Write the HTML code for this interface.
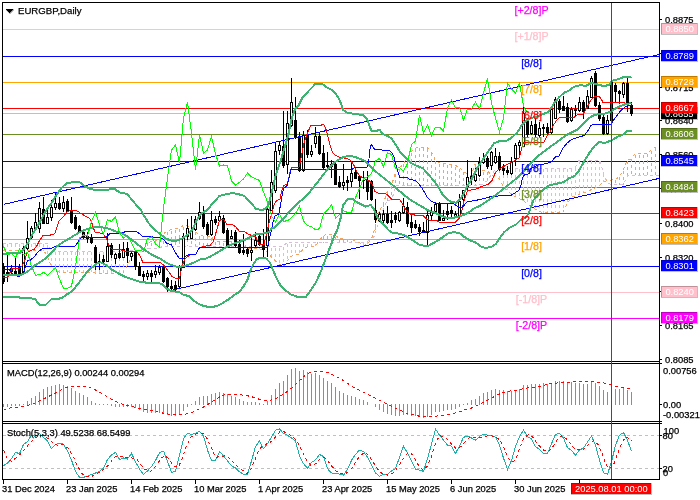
<!DOCTYPE html>
<html><head><meta charset="utf-8"><title>EURGBP Daily</title>
<style>html,body{margin:0;padding:0;background:#fff}body{width:700px;height:500px;overflow:hidden}</style></head>
<body>
<svg width="700" height="500" viewBox="0 0 700 500" style="display:block;font-family:'Liberation Sans',Arial,sans-serif">
<rect width="700" height="500" fill="#fff"/>
<g shape-rendering="crispEdges" fill="none">
<clipPath id="cm"><rect x="3" y="3" width="656" height="358"/></clipPath>
<g clip-path="url(#cm)">
<rect x="3" y="29" width="656" height="1" fill="#FFC0CB"/>
<rect x="3" y="56" width="656" height="1" fill="#0000FF"/>
<rect x="3" y="82" width="656" height="1" fill="#FFA500"/>
<rect x="3" y="108" width="656" height="1" fill="#FF0000"/>
<rect x="3" y="134" width="656" height="1" fill="#6B8E23"/>
<rect x="3" y="161" width="656" height="1" fill="#0000FF"/>
<rect x="3" y="187" width="656" height="1" fill="#6B8E23"/>
<rect x="3" y="213" width="656" height="1" fill="#FF0000"/>
<rect x="3" y="239" width="656" height="1" fill="#FFA500"/>
<rect x="3" y="266" width="656" height="1" fill="#0000FF"/>
<rect x="3" y="292" width="656" height="1" fill="#FFC0CB"/>
<rect x="3" y="318" width="656" height="1" fill="#FF00FF"/>
<rect x="3" y="113" width="656" height="1" fill="#C0C0C0"/>
<line x1="3.5" y1="244.0" x2="3.5" y2="250.3" stroke="#D8BFD8" stroke-dasharray="3 3"/>
<line x1="7.5" y1="244.0" x2="7.5" y2="250.3" stroke="#D8BFD8" stroke-dasharray="3 3"/>
<line x1="11.5" y1="244.0" x2="11.5" y2="250.3" stroke="#D8BFD8" stroke-dasharray="3 3"/>
<line x1="15.5" y1="244.0" x2="15.5" y2="250.3" stroke="#D8BFD8" stroke-dasharray="3 3"/>
<line x1="19.5" y1="244.0" x2="19.5" y2="250.3" stroke="#D8BFD8" stroke-dasharray="3 3"/>
<line x1="23.5" y1="244.0" x2="23.5" y2="250.3" stroke="#D8BFD8" stroke-dasharray="3 3"/>
<line x1="27.5" y1="244.0" x2="27.5" y2="250.3" stroke="#D8BFD8" stroke-dasharray="3 3"/>
<line x1="31.5" y1="244.0" x2="31.5" y2="250.3" stroke="#D8BFD8" stroke-dasharray="3 3"/>
<line x1="35.5" y1="244.0" x2="35.5" y2="250.3" stroke="#D8BFD8" stroke-dasharray="3 3"/>
<line x1="39.5" y1="244.0" x2="39.5" y2="250.3" stroke="#D8BFD8" stroke-dasharray="3 3"/>
<line x1="43.5" y1="244.0" x2="43.5" y2="250.9" stroke="#D8BFD8" stroke-dasharray="3 3"/>
<line x1="47.5" y1="245.1" x2="47.5" y2="256.3" stroke="#D8BFD8" stroke-dasharray="3 3"/>
<line x1="51.5" y1="252.4" x2="51.5" y2="266.2" stroke="#D8BFD8" stroke-dasharray="3 3"/>
<line x1="55.5" y1="252.4" x2="55.5" y2="270.2" stroke="#D8BFD8" stroke-dasharray="3 3"/>
<line x1="59.5" y1="252.4" x2="59.5" y2="272.0" stroke="#D8BFD8" stroke-dasharray="3 3"/>
<line x1="63.5" y1="252.4" x2="63.5" y2="272.0" stroke="#D8BFD8" stroke-dasharray="3 3"/>
<line x1="67.5" y1="252.4" x2="67.5" y2="272.0" stroke="#D8BFD8" stroke-dasharray="3 3"/>
<line x1="71.5" y1="252.4" x2="71.5" y2="272.0" stroke="#D8BFD8" stroke-dasharray="3 3"/>
<line x1="75.5" y1="252.4" x2="75.5" y2="272.0" stroke="#D8BFD8" stroke-dasharray="3 3"/>
<line x1="79.5" y1="252.4" x2="79.5" y2="272.0" stroke="#D8BFD8" stroke-dasharray="3 3"/>
<line x1="83.5" y1="252.4" x2="83.5" y2="272.0" stroke="#D8BFD8" stroke-dasharray="3 3"/>
<line x1="87.5" y1="252.4" x2="87.5" y2="272.0" stroke="#D8BFD8" stroke-dasharray="3 3"/>
<line x1="91.5" y1="252.4" x2="91.5" y2="272.1" stroke="#D8BFD8" stroke-dasharray="3 3"/>
<line x1="95.5" y1="252.4" x2="95.5" y2="273.1" stroke="#D8BFD8" stroke-dasharray="3 3"/>
<line x1="99.5" y1="252.4" x2="99.5" y2="273.1" stroke="#D8BFD8" stroke-dasharray="3 3"/>
<line x1="103.5" y1="252.4" x2="103.5" y2="273.1" stroke="#D8BFD8" stroke-dasharray="3 3"/>
<line x1="107.5" y1="252.4" x2="107.5" y2="273.1" stroke="#D8BFD8" stroke-dasharray="3 3"/>
<line x1="111.5" y1="252.4" x2="111.5" y2="273.1" stroke="#D8BFD8" stroke-dasharray="3 3"/>
<line x1="115.5" y1="252.4" x2="115.5" y2="273.1" stroke="#D8BFD8" stroke-dasharray="3 3"/>
<line x1="119.5" y1="252.4" x2="119.5" y2="273.1" stroke="#D8BFD8" stroke-dasharray="3 3"/>
<line x1="123.5" y1="252.4" x2="123.5" y2="272.2" stroke="#D8BFD8" stroke-dasharray="3 3"/>
<line x1="127.5" y1="252.3" x2="127.5" y2="265.0" stroke="#D8BFD8" stroke-dasharray="3 3"/>
<line x1="131.5" y1="251.9" x2="131.5" y2="257.5" stroke="#D8BFD8" stroke-dasharray="3 3"/>
<line x1="135.5" y1="251.4" x2="135.5" y2="253.6" stroke="#D8BFD8" stroke-dasharray="3 3"/>
<line x1="143.5" y1="248.3" x2="143.5" y2="249.5" stroke="#F4A460" stroke-dasharray="3 3"/>
<line x1="147.5" y1="243.2" x2="147.5" y2="249.0" stroke="#F4A460" stroke-dasharray="3 3"/>
<line x1="151.5" y1="242.8" x2="151.5" y2="248.6" stroke="#F4A460" stroke-dasharray="3 3"/>
<line x1="155.5" y1="242.1" x2="155.5" y2="248.4" stroke="#F4A460" stroke-dasharray="3 3"/>
<line x1="159.5" y1="238.5" x2="159.5" y2="248.1" stroke="#F4A460" stroke-dasharray="3 3"/>
<line x1="163.5" y1="234.8" x2="163.5" y2="246.3" stroke="#F4A460" stroke-dasharray="3 3"/>
<line x1="167.5" y1="232.1" x2="167.5" y2="246.3" stroke="#F4A460" stroke-dasharray="3 3"/>
<line x1="171.5" y1="230.5" x2="171.5" y2="246.3" stroke="#F4A460" stroke-dasharray="3 3"/>
<line x1="175.5" y1="229.9" x2="175.5" y2="246.3" stroke="#F4A460" stroke-dasharray="3 3"/>
<line x1="179.5" y1="229.1" x2="179.5" y2="246.3" stroke="#F4A460" stroke-dasharray="3 3"/>
<line x1="183.5" y1="226.7" x2="183.5" y2="246.3" stroke="#F4A460" stroke-dasharray="3 3"/>
<line x1="187.5" y1="227.2" x2="187.5" y2="246.3" stroke="#F4A460" stroke-dasharray="3 3"/>
<line x1="191.5" y1="228.9" x2="191.5" y2="246.3" stroke="#F4A460" stroke-dasharray="3 3"/>
<line x1="195.5" y1="232.1" x2="195.5" y2="246.4" stroke="#F4A460" stroke-dasharray="3 3"/>
<line x1="199.5" y1="236.1" x2="199.5" y2="246.4" stroke="#F4A460" stroke-dasharray="3 3"/>
<line x1="203.5" y1="237.0" x2="203.5" y2="246.4" stroke="#F4A460" stroke-dasharray="3 3"/>
<line x1="207.5" y1="237.3" x2="207.5" y2="246.4" stroke="#F4A460" stroke-dasharray="3 3"/>
<line x1="211.5" y1="238.1" x2="211.5" y2="246.4" stroke="#F4A460" stroke-dasharray="3 3"/>
<line x1="215.5" y1="241.8" x2="215.5" y2="246.4" stroke="#F4A460" stroke-dasharray="3 3"/>
<line x1="219.5" y1="242.2" x2="219.5" y2="246.4" stroke="#F4A460" stroke-dasharray="3 3"/>
<line x1="223.5" y1="242.5" x2="223.5" y2="246.4" stroke="#F4A460" stroke-dasharray="3 3"/>
<line x1="227.5" y1="242.4" x2="227.5" y2="246.4" stroke="#F4A460" stroke-dasharray="3 3"/>
<line x1="231.5" y1="242.4" x2="231.5" y2="246.4" stroke="#F4A460" stroke-dasharray="3 3"/>
<line x1="235.5" y1="242.3" x2="235.5" y2="246.4" stroke="#F4A460" stroke-dasharray="3 3"/>
<line x1="239.5" y1="242.3" x2="239.5" y2="246.4" stroke="#F4A460" stroke-dasharray="3 3"/>
<line x1="243.5" y1="243.1" x2="243.5" y2="246.4" stroke="#F4A460" stroke-dasharray="3 3"/>
<line x1="247.5" y1="247.4" x2="247.5" y2="248.5" stroke="#D8BFD8" stroke-dasharray="3 3"/>
<line x1="251.5" y1="247.4" x2="251.5" y2="248.7" stroke="#D8BFD8" stroke-dasharray="3 3"/>
<line x1="255.5" y1="247.5" x2="255.5" y2="248.9" stroke="#D8BFD8" stroke-dasharray="3 3"/>
<line x1="259.5" y1="247.5" x2="259.5" y2="249.1" stroke="#D8BFD8" stroke-dasharray="3 3"/>
<line x1="263.5" y1="247.5" x2="263.5" y2="249.6" stroke="#D8BFD8" stroke-dasharray="3 3"/>
<line x1="267.5" y1="247.5" x2="267.5" y2="252.6" stroke="#D8BFD8" stroke-dasharray="3 3"/>
<line x1="271.5" y1="247.5" x2="271.5" y2="257.0" stroke="#D8BFD8" stroke-dasharray="3 3"/>
<line x1="275.5" y1="247.5" x2="275.5" y2="260.9" stroke="#D8BFD8" stroke-dasharray="3 3"/>
<line x1="279.5" y1="247.5" x2="279.5" y2="264.4" stroke="#D8BFD8" stroke-dasharray="3 3"/>
<line x1="283.5" y1="247.0" x2="283.5" y2="266.2" stroke="#D8BFD8" stroke-dasharray="3 3"/>
<line x1="287.5" y1="243.6" x2="287.5" y2="260.4" stroke="#D8BFD8" stroke-dasharray="3 3"/>
<line x1="291.5" y1="243.6" x2="291.5" y2="256.3" stroke="#D8BFD8" stroke-dasharray="3 3"/>
<line x1="295.5" y1="243.6" x2="295.5" y2="254.6" stroke="#D8BFD8" stroke-dasharray="3 3"/>
<line x1="299.5" y1="243.6" x2="299.5" y2="253.7" stroke="#D8BFD8" stroke-dasharray="3 3"/>
<line x1="303.5" y1="243.6" x2="303.5" y2="248.8" stroke="#D8BFD8" stroke-dasharray="3 3"/>
<line x1="307.5" y1="243.5" x2="307.5" y2="247.0" stroke="#D8BFD8" stroke-dasharray="3 3"/>
<line x1="311.5" y1="243.5" x2="311.5" y2="246.6" stroke="#D8BFD8" stroke-dasharray="3 3"/>
<line x1="315.5" y1="243.5" x2="315.5" y2="245.7" stroke="#D8BFD8" stroke-dasharray="3 3"/>
<line x1="323.5" y1="236.4" x2="323.5" y2="242.5" stroke="#F4A460" stroke-dasharray="3 3"/>
<line x1="327.5" y1="235.5" x2="327.5" y2="242.5" stroke="#F4A460" stroke-dasharray="3 3"/>
<line x1="331.5" y1="236.0" x2="331.5" y2="242.5" stroke="#F4A460" stroke-dasharray="3 3"/>
<line x1="335.5" y1="236.7" x2="335.5" y2="242.5" stroke="#F4A460" stroke-dasharray="3 3"/>
<line x1="339.5" y1="239.1" x2="339.5" y2="242.5" stroke="#F4A460" stroke-dasharray="3 3"/>
<line x1="343.5" y1="240.0" x2="343.5" y2="242.5" stroke="#F4A460" stroke-dasharray="3 3"/>
<line x1="347.5" y1="240.2" x2="347.5" y2="242.4" stroke="#F4A460" stroke-dasharray="3 3"/>
<line x1="351.5" y1="240.6" x2="351.5" y2="242.4" stroke="#F4A460" stroke-dasharray="3 3"/>
<line x1="363.5" y1="243.2" x2="363.5" y2="245.1" stroke="#D8BFD8" stroke-dasharray="3 3"/>
<line x1="367.5" y1="242.1" x2="367.5" y2="244.1" stroke="#D8BFD8" stroke-dasharray="3 3"/>
<line x1="375.5" y1="226.9" x2="375.5" y2="233.3" stroke="#F4A460" stroke-dasharray="3 3"/>
<line x1="379.5" y1="211.2" x2="379.5" y2="218.2" stroke="#F4A460" stroke-dasharray="3 3"/>
<line x1="383.5" y1="204.4" x2="383.5" y2="209.0" stroke="#F4A460" stroke-dasharray="3 3"/>
<line x1="387.5" y1="192.4" x2="387.5" y2="200.8" stroke="#F4A460" stroke-dasharray="3 3"/>
<line x1="391.5" y1="186.4" x2="391.5" y2="199.5" stroke="#F4A460" stroke-dasharray="3 3"/>
<line x1="395.5" y1="174.4" x2="395.5" y2="188.4" stroke="#F4A460" stroke-dasharray="3 3"/>
<line x1="399.5" y1="169.4" x2="399.5" y2="185.5" stroke="#F4A460" stroke-dasharray="3 3"/>
<line x1="403.5" y1="164.3" x2="403.5" y2="185.5" stroke="#F4A460" stroke-dasharray="3 3"/>
<line x1="407.5" y1="158.8" x2="407.5" y2="185.5" stroke="#F4A460" stroke-dasharray="3 3"/>
<line x1="411.5" y1="152.5" x2="411.5" y2="185.5" stroke="#F4A460" stroke-dasharray="3 3"/>
<line x1="415.5" y1="149.2" x2="415.5" y2="185.5" stroke="#F4A460" stroke-dasharray="3 3"/>
<line x1="419.5" y1="148.4" x2="419.5" y2="185.5" stroke="#F4A460" stroke-dasharray="3 3"/>
<line x1="423.5" y1="148.4" x2="423.5" y2="185.5" stroke="#F4A460" stroke-dasharray="3 3"/>
<line x1="427.5" y1="148.8" x2="427.5" y2="185.5" stroke="#F4A460" stroke-dasharray="3 3"/>
<line x1="431.5" y1="153.1" x2="431.5" y2="185.5" stroke="#F4A460" stroke-dasharray="3 3"/>
<line x1="435.5" y1="160.9" x2="435.5" y2="185.5" stroke="#F4A460" stroke-dasharray="3 3"/>
<line x1="439.5" y1="163.7" x2="439.5" y2="185.5" stroke="#F4A460" stroke-dasharray="3 3"/>
<line x1="443.5" y1="164.4" x2="443.5" y2="185.5" stroke="#F4A460" stroke-dasharray="3 3"/>
<line x1="447.5" y1="164.8" x2="447.5" y2="185.5" stroke="#F4A460" stroke-dasharray="3 3"/>
<line x1="451.5" y1="165.4" x2="451.5" y2="185.5" stroke="#F4A460" stroke-dasharray="3 3"/>
<line x1="455.5" y1="166.6" x2="455.5" y2="185.5" stroke="#F4A460" stroke-dasharray="3 3"/>
<line x1="459.5" y1="168.5" x2="459.5" y2="185.5" stroke="#F4A460" stroke-dasharray="3 3"/>
<line x1="463.5" y1="172.0" x2="463.5" y2="185.5" stroke="#F4A460" stroke-dasharray="3 3"/>
<line x1="467.5" y1="175.2" x2="467.5" y2="185.5" stroke="#F4A460" stroke-dasharray="3 3"/>
<line x1="471.5" y1="175.1" x2="471.5" y2="185.5" stroke="#F4A460" stroke-dasharray="3 3"/>
<line x1="475.5" y1="165.8" x2="475.5" y2="185.5" stroke="#F4A460" stroke-dasharray="3 3"/>
<line x1="479.5" y1="171.5" x2="479.5" y2="185.3" stroke="#F4A460" stroke-dasharray="3 3"/>
<line x1="483.5" y1="171.8" x2="483.5" y2="183.6" stroke="#F4A460" stroke-dasharray="3 3"/>
<line x1="487.5" y1="172.4" x2="487.5" y2="180.2" stroke="#F4A460" stroke-dasharray="3 3"/>
<line x1="495.5" y1="170.9" x2="495.5" y2="176.8" stroke="#D8BFD8" stroke-dasharray="3 3"/>
<line x1="499.5" y1="169.9" x2="499.5" y2="179.9" stroke="#D8BFD8" stroke-dasharray="3 3"/>
<line x1="503.5" y1="169.3" x2="503.5" y2="186.6" stroke="#D8BFD8" stroke-dasharray="3 3"/>
<line x1="507.5" y1="169.3" x2="507.5" y2="190.9" stroke="#D8BFD8" stroke-dasharray="3 3"/>
<line x1="511.5" y1="169.3" x2="511.5" y2="194.3" stroke="#D8BFD8" stroke-dasharray="3 3"/>
<line x1="515.5" y1="169.2" x2="515.5" y2="196.7" stroke="#D8BFD8" stroke-dasharray="3 3"/>
<line x1="519.5" y1="169.2" x2="519.5" y2="198.6" stroke="#D8BFD8" stroke-dasharray="3 3"/>
<line x1="523.5" y1="169.2" x2="523.5" y2="200.9" stroke="#D8BFD8" stroke-dasharray="3 3"/>
<line x1="527.5" y1="169.2" x2="527.5" y2="203.9" stroke="#D8BFD8" stroke-dasharray="3 3"/>
<line x1="531.5" y1="169.2" x2="531.5" y2="206.8" stroke="#D8BFD8" stroke-dasharray="3 3"/>
<line x1="535.5" y1="169.2" x2="535.5" y2="209.2" stroke="#D8BFD8" stroke-dasharray="3 3"/>
<line x1="539.5" y1="169.1" x2="539.5" y2="211.2" stroke="#D8BFD8" stroke-dasharray="3 3"/>
<line x1="543.5" y1="169.1" x2="543.5" y2="212.7" stroke="#D8BFD8" stroke-dasharray="3 3"/>
<line x1="547.5" y1="169.1" x2="547.5" y2="212.6" stroke="#D8BFD8" stroke-dasharray="3 3"/>
<line x1="551.5" y1="169.1" x2="551.5" y2="212.5" stroke="#D8BFD8" stroke-dasharray="3 3"/>
<line x1="555.5" y1="169.1" x2="555.5" y2="212.4" stroke="#D8BFD8" stroke-dasharray="3 3"/>
<line x1="559.5" y1="169.1" x2="559.5" y2="212.4" stroke="#D8BFD8" stroke-dasharray="3 3"/>
<line x1="563.5" y1="169.0" x2="563.5" y2="211.3" stroke="#D8BFD8" stroke-dasharray="3 3"/>
<line x1="567.5" y1="169.0" x2="567.5" y2="203.2" stroke="#D8BFD8" stroke-dasharray="3 3"/>
<line x1="571.5" y1="169.0" x2="571.5" y2="197.3" stroke="#D8BFD8" stroke-dasharray="3 3"/>
<line x1="575.5" y1="168.1" x2="575.5" y2="195.9" stroke="#D8BFD8" stroke-dasharray="3 3"/>
<line x1="579.5" y1="161.3" x2="579.5" y2="194.3" stroke="#D8BFD8" stroke-dasharray="3 3"/>
<line x1="583.5" y1="161.3" x2="583.5" y2="192.8" stroke="#D8BFD8" stroke-dasharray="3 3"/>
<line x1="587.5" y1="161.3" x2="587.5" y2="191.3" stroke="#D8BFD8" stroke-dasharray="3 3"/>
<line x1="591.5" y1="161.3" x2="591.5" y2="189.5" stroke="#D8BFD8" stroke-dasharray="3 3"/>
<line x1="595.5" y1="161.3" x2="595.5" y2="187.8" stroke="#D8BFD8" stroke-dasharray="3 3"/>
<line x1="599.5" y1="161.3" x2="599.5" y2="185.6" stroke="#D8BFD8" stroke-dasharray="3 3"/>
<line x1="603.5" y1="174.4" x2="603.5" y2="182.2" stroke="#D8BFD8" stroke-dasharray="3 3"/>
<line x1="611.5" y1="181.0" x2="611.5" y2="184.8" stroke="#F4A460" stroke-dasharray="3 3"/>
<line x1="615.5" y1="180.4" x2="615.5" y2="184.8" stroke="#F4A460" stroke-dasharray="3 3"/>
<line x1="619.5" y1="177.2" x2="619.5" y2="184.8" stroke="#F4A460" stroke-dasharray="3 3"/>
<line x1="623.5" y1="170.7" x2="623.5" y2="184.6" stroke="#F4A460" stroke-dasharray="3 3"/>
<line x1="627.5" y1="160.9" x2="627.5" y2="175.8" stroke="#F4A460" stroke-dasharray="3 3"/>
<line x1="631.5" y1="159.3" x2="631.5" y2="175.4" stroke="#F4A460" stroke-dasharray="3 3"/>
<line x1="635.5" y1="154.8" x2="635.5" y2="175.4" stroke="#F4A460" stroke-dasharray="3 3"/>
<line x1="639.5" y1="154.8" x2="639.5" y2="175.4" stroke="#F4A460" stroke-dasharray="3 3"/>
<line x1="643.5" y1="154.8" x2="643.5" y2="175.4" stroke="#F4A460" stroke-dasharray="3 3"/>
<line x1="647.5" y1="154.4" x2="647.5" y2="175.4" stroke="#F4A460" stroke-dasharray="3 3"/>
<line x1="651.5" y1="150.8" x2="651.5" y2="175.4" stroke="#F4A460" stroke-dasharray="3 3"/>
<line x1="655.5" y1="148.1" x2="655.5" y2="175.4" stroke="#F4A460" stroke-dasharray="3 3"/>
<polyline points="3.0,243.0 47.0,243.0 51.0,251.4 127.0,251.4 151.0,248.6 159.0,248.3 163.0,246.3 283.0,246.5 287.0,242.6 363.0,242.4 371.0,240.0 375.0,235.3 379.0,219.3 384.0,207.9 387.0,201.0 392.0,199.3 394.3,190.7 397.0,185.5 479.0,185.5 483.0,184.0 487.0,181.0 491.0,175.0 495.0,170.0 499.0,169.0 503.0,168.3 575.0,168.0 577.3,163.9 579.0,160.3 600.0,160.3 601.8,166.8 603.2,172.6 605.4,178.3 607.6,182.6 611.0,184.8 623.4,184.8 627.7,175.4 659.0,175.4" stroke="#D8BFD8" stroke-dasharray="3 3"/>
<polyline points="3.0,250.3 43.0,250.3 47.0,255.0 51.0,265.7 55.0,270.0 59.0,272.0 91.0,272.0 95.0,273.1 123.0,273.1 127.0,266.0 131.0,258.0 135.0,254.0 139.0,251.0 143.0,248.0 147.0,242.3 155.0,241.5 159.0,238.0 163.0,234.1 167.0,231.3 171.0,229.6 179.0,228.4 183.0,225.6 187.0,226.0 191.0,227.5 195.0,230.5 199.0,235.0 203.0,236.0 211.0,236.6 215.0,240.8 223.0,241.5 243.0,241.2 247.0,248.5 263.0,249.3 267.0,252.0 271.0,256.5 275.0,260.5 279.0,264.0 283.0,266.9 287.0,261.0 291.0,256.5 295.0,254.6 299.0,254.3 303.0,249.1 307.0,247.0 315.0,246.3 319.0,241.3 323.0,235.5 327.0,234.4 335.0,235.4 339.0,238.0 343.0,239.0 351.0,239.4 355.0,240.8 359.0,242.5 363.0,245.2 367.0,244.7 371.0,239.8 375.0,228.0 379.0,211.0 383.0,205.0 387.0,192.0 391.0,187.0 395.0,174.0 399.0,169.0 403.0,164.0 407.0,158.6 411.0,152.0 415.0,148.3 419.0,147.4 427.0,147.4 431.0,151.0 435.0,159.5 439.0,162.6 443.0,163.4 447.0,163.7 451.0,164.3 455.0,165.4 459.0,167.1 463.0,170.6 467.0,174.0 471.0,175.5 475.0,164.0 479.0,170.5 487.0,171.0 491.0,174.0 495.0,176.5 499.0,179.0 503.0,186.0 507.0,190.5 511.0,194.0 515.0,196.5 519.0,198.3 523.0,200.5 527.0,203.5 531.0,206.5 535.0,209.0 539.0,211.0 543.0,212.7 563.0,212.3 567.0,204.0 571.0,197.5 575.0,196.1 579.0,194.5 587.0,191.5 595.0,188.0 599.0,186.0 603.0,182.5 607.0,180.5 611.0,180.0 615.0,179.8 619.0,176.9 623.0,171.1 627.0,160.0 631.0,158.9 635.0,153.8 647.0,153.8 651.0,150.2 655.0,147.3 659.0,146.0" stroke="#F4A460" stroke-dasharray="3 3"/>
<rect x="3" y="263" width="1" height="21" fill="#000"/>
<rect x="2" y="266" width="3" height="16" fill="#000"/>
<rect x="7" y="255" width="1" height="27" fill="#000"/>
<rect x="6" y="272" width="3" height="2" fill="#000"/>
<rect x="11" y="265" width="1" height="9" fill="#000"/>
<rect x="10" y="268" width="3" height="4" fill="#000"/>
<rect x="15" y="258" width="1" height="17" fill="#000"/>
<rect x="14" y="271" width="3" height="3" fill="#000"/>
<rect x="19" y="264" width="1" height="11" fill="#000"/>
<rect x="18" y="267" width="3" height="8" fill="#000"/>
<rect x="23" y="246" width="1" height="28" fill="#000"/>
<rect x="22" y="248" width="3" height="25" fill="#000"/>
<rect x="23" y="249" width="1" height="23" fill="#fff"/>
<rect x="27" y="221" width="1" height="29" fill="#000"/>
<rect x="26" y="238" width="3" height="11" fill="#000"/>
<rect x="27" y="239" width="1" height="9" fill="#fff"/>
<rect x="31" y="226" width="1" height="13" fill="#000"/>
<rect x="30" y="228" width="3" height="10" fill="#000"/>
<rect x="31" y="229" width="1" height="8" fill="#fff"/>
<rect x="35" y="213" width="1" height="16" fill="#000"/>
<rect x="34" y="222" width="3" height="7" fill="#000"/>
<rect x="35" y="223" width="1" height="5" fill="#fff"/>
<rect x="39" y="202" width="1" height="31" fill="#000"/>
<rect x="38" y="208" width="3" height="21" fill="#000"/>
<rect x="39" y="209" width="1" height="19" fill="#fff"/>
<rect x="43" y="197" width="1" height="27" fill="#000"/>
<rect x="42" y="209" width="3" height="15" fill="#000"/>
<rect x="47" y="207" width="1" height="17" fill="#000"/>
<rect x="46" y="217" width="3" height="7" fill="#000"/>
<rect x="47" y="218" width="1" height="5" fill="#fff"/>
<rect x="51" y="200" width="1" height="21" fill="#000"/>
<rect x="50" y="207" width="3" height="11" fill="#000"/>
<rect x="51" y="208" width="1" height="9" fill="#fff"/>
<rect x="55" y="192" width="1" height="18" fill="#000"/>
<rect x="54" y="203" width="3" height="5" fill="#000"/>
<rect x="55" y="204" width="1" height="3" fill="#fff"/>
<rect x="59" y="197" width="1" height="13" fill="#000"/>
<rect x="58" y="203" width="3" height="6" fill="#000"/>
<rect x="63" y="196" width="1" height="16" fill="#000"/>
<rect x="62" y="202" width="3" height="7" fill="#000"/>
<rect x="63" y="203" width="1" height="5" fill="#fff"/>
<rect x="67" y="199" width="1" height="13" fill="#000"/>
<rect x="66" y="201" width="3" height="11" fill="#000"/>
<rect x="71" y="197" width="1" height="27" fill="#000"/>
<rect x="70" y="211" width="3" height="12" fill="#000"/>
<rect x="75" y="215" width="1" height="15" fill="#000"/>
<rect x="74" y="217" width="3" height="12" fill="#000"/>
<rect x="79" y="225" width="1" height="8" fill="#000"/>
<rect x="78" y="226" width="3" height="7" fill="#000"/>
<rect x="83" y="231" width="1" height="8" fill="#000"/>
<rect x="82" y="232" width="3" height="6" fill="#000"/>
<rect x="87" y="232" width="1" height="11" fill="#000"/>
<rect x="86" y="236" width="3" height="3" fill="#000"/>
<rect x="91" y="234" width="1" height="10" fill="#000"/>
<rect x="90" y="237" width="3" height="6" fill="#000"/>
<rect x="95" y="245" width="1" height="25" fill="#000"/>
<rect x="94" y="247" width="3" height="16" fill="#000"/>
<rect x="99" y="254" width="1" height="16" fill="#000"/>
<rect x="98" y="261" width="3" height="2" fill="#000"/>
<rect x="103" y="255" width="1" height="8" fill="#000"/>
<rect x="102" y="259" width="3" height="3" fill="#000"/>
<rect x="107" y="233" width="1" height="29" fill="#000"/>
<rect x="106" y="246" width="3" height="16" fill="#000"/>
<rect x="107" y="247" width="1" height="14" fill="#fff"/>
<rect x="111" y="243" width="1" height="15" fill="#000"/>
<rect x="110" y="245" width="3" height="10" fill="#000"/>
<rect x="115" y="253" width="1" height="11" fill="#000"/>
<rect x="114" y="254" width="3" height="5" fill="#000"/>
<rect x="115" y="255" width="1" height="3" fill="#fff"/>
<rect x="119" y="244" width="1" height="15" fill="#000"/>
<rect x="118" y="253" width="3" height="5" fill="#000"/>
<rect x="123" y="242" width="1" height="16" fill="#000"/>
<rect x="122" y="249" width="3" height="9" fill="#000"/>
<rect x="123" y="250" width="1" height="7" fill="#fff"/>
<rect x="127" y="242" width="1" height="21" fill="#000"/>
<rect x="126" y="248" width="3" height="8" fill="#000"/>
<rect x="131" y="251" width="1" height="10" fill="#000"/>
<rect x="130" y="253" width="3" height="4" fill="#000"/>
<rect x="131" y="254" width="1" height="2" fill="#fff"/>
<rect x="135" y="251" width="1" height="19" fill="#000"/>
<rect x="134" y="252" width="3" height="15" fill="#000"/>
<rect x="139" y="262" width="1" height="14" fill="#000"/>
<rect x="138" y="266" width="3" height="10" fill="#000"/>
<rect x="143" y="271" width="1" height="11" fill="#000"/>
<rect x="142" y="274" width="3" height="3" fill="#000"/>
<rect x="147" y="270" width="1" height="10" fill="#000"/>
<rect x="146" y="273" width="3" height="4" fill="#000"/>
<rect x="147" y="274" width="1" height="2" fill="#fff"/>
<rect x="151" y="270" width="1" height="13" fill="#000"/>
<rect x="150" y="273" width="3" height="4" fill="#000"/>
<rect x="155" y="265" width="1" height="13" fill="#000"/>
<rect x="154" y="271" width="3" height="4" fill="#000"/>
<rect x="155" y="272" width="1" height="2" fill="#fff"/>
<rect x="159" y="265" width="1" height="10" fill="#000"/>
<rect x="158" y="267" width="3" height="6" fill="#000"/>
<rect x="159" y="268" width="1" height="4" fill="#fff"/>
<rect x="163" y="266" width="1" height="17" fill="#000"/>
<rect x="162" y="267" width="3" height="15" fill="#000"/>
<rect x="167" y="277" width="1" height="15" fill="#000"/>
<rect x="166" y="278" width="3" height="9" fill="#000"/>
<rect x="171" y="280" width="1" height="11" fill="#000"/>
<rect x="170" y="286" width="3" height="3" fill="#000"/>
<rect x="175" y="281" width="1" height="10" fill="#000"/>
<rect x="174" y="285" width="3" height="4" fill="#000"/>
<rect x="179" y="265" width="1" height="24" fill="#000"/>
<rect x="178" y="267" width="3" height="20" fill="#000"/>
<rect x="179" y="268" width="1" height="18" fill="#fff"/>
<rect x="183" y="233" width="1" height="35" fill="#000"/>
<rect x="182" y="236" width="3" height="32" fill="#000"/>
<rect x="183" y="237" width="1" height="30" fill="#fff"/>
<rect x="187" y="219" width="1" height="21" fill="#000"/>
<rect x="186" y="228" width="3" height="9" fill="#000"/>
<rect x="187" y="229" width="1" height="7" fill="#fff"/>
<rect x="191" y="216" width="1" height="23" fill="#000"/>
<rect x="190" y="231" width="3" height="8" fill="#000"/>
<rect x="191" y="232" width="1" height="6" fill="#fff"/>
<rect x="195" y="216" width="1" height="15" fill="#000"/>
<rect x="194" y="219" width="3" height="11" fill="#000"/>
<rect x="195" y="220" width="1" height="9" fill="#fff"/>
<rect x="199" y="202" width="1" height="18" fill="#000"/>
<rect x="198" y="212" width="3" height="7" fill="#000"/>
<rect x="199" y="213" width="1" height="5" fill="#fff"/>
<rect x="203" y="206" width="1" height="23" fill="#000"/>
<rect x="202" y="214" width="3" height="13" fill="#000"/>
<rect x="207" y="222" width="1" height="14" fill="#000"/>
<rect x="206" y="224" width="3" height="11" fill="#000"/>
<rect x="211" y="211" width="1" height="25" fill="#000"/>
<rect x="210" y="220" width="3" height="15" fill="#000"/>
<rect x="211" y="221" width="1" height="13" fill="#fff"/>
<rect x="215" y="216" width="1" height="9" fill="#000"/>
<rect x="214" y="219" width="3" height="4" fill="#000"/>
<rect x="219" y="211" width="1" height="11" fill="#000"/>
<rect x="218" y="216" width="3" height="5" fill="#000"/>
<rect x="219" y="217" width="1" height="3" fill="#fff"/>
<rect x="223" y="215" width="1" height="19" fill="#000"/>
<rect x="222" y="218" width="3" height="15" fill="#000"/>
<rect x="227" y="228" width="1" height="19" fill="#000"/>
<rect x="226" y="230" width="3" height="16" fill="#000"/>
<rect x="231" y="230" width="1" height="9" fill="#000"/>
<rect x="230" y="236" width="3" height="3" fill="#000"/>
<rect x="231" y="237" width="1" height="1" fill="#fff"/>
<rect x="235" y="230" width="1" height="18" fill="#000"/>
<rect x="234" y="232" width="3" height="14" fill="#000"/>
<rect x="239" y="240" width="1" height="14" fill="#000"/>
<rect x="238" y="244" width="3" height="9" fill="#000"/>
<rect x="243" y="234" width="1" height="21" fill="#000"/>
<rect x="242" y="250" width="3" height="3" fill="#000"/>
<rect x="247" y="247" width="1" height="10" fill="#000"/>
<rect x="246" y="249" width="3" height="5" fill="#000"/>
<rect x="251" y="238" width="1" height="23" fill="#000"/>
<rect x="250" y="250" width="3" height="3" fill="#000"/>
<rect x="251" y="251" width="1" height="1" fill="#fff"/>
<rect x="255" y="232" width="1" height="15" fill="#000"/>
<rect x="254" y="240" width="3" height="6" fill="#000"/>
<rect x="255" y="241" width="1" height="4" fill="#fff"/>
<rect x="259" y="235" width="1" height="11" fill="#000"/>
<rect x="258" y="236" width="3" height="9" fill="#000"/>
<rect x="263" y="229" width="1" height="29" fill="#000"/>
<rect x="262" y="245" width="3" height="5" fill="#000"/>
<rect x="267" y="202" width="1" height="55" fill="#000"/>
<rect x="266" y="209" width="3" height="37" fill="#000"/>
<rect x="267" y="210" width="1" height="35" fill="#fff"/>
<rect x="271" y="170" width="1" height="41" fill="#000"/>
<rect x="270" y="182" width="3" height="29" fill="#000"/>
<rect x="271" y="183" width="1" height="27" fill="#fff"/>
<rect x="275" y="143" width="1" height="50" fill="#000"/>
<rect x="274" y="151" width="3" height="40" fill="#000"/>
<rect x="275" y="152" width="1" height="38" fill="#fff"/>
<rect x="279" y="141" width="1" height="14" fill="#000"/>
<rect x="278" y="145" width="3" height="6" fill="#000"/>
<rect x="279" y="146" width="1" height="4" fill="#fff"/>
<rect x="283" y="111" width="1" height="57" fill="#000"/>
<rect x="282" y="146" width="3" height="20" fill="#000"/>
<rect x="287" y="111" width="1" height="63" fill="#000"/>
<rect x="286" y="123" width="3" height="42" fill="#000"/>
<rect x="287" y="124" width="1" height="40" fill="#fff"/>
<rect x="291" y="78" width="1" height="49" fill="#000"/>
<rect x="290" y="102" width="3" height="24" fill="#000"/>
<rect x="291" y="103" width="1" height="22" fill="#fff"/>
<rect x="295" y="97" width="1" height="42" fill="#000"/>
<rect x="294" y="120" width="3" height="18" fill="#000"/>
<rect x="299" y="132" width="1" height="40" fill="#000"/>
<rect x="298" y="137" width="3" height="34" fill="#000"/>
<rect x="303" y="131" width="1" height="41" fill="#000"/>
<rect x="302" y="135" width="3" height="36" fill="#000"/>
<rect x="303" y="136" width="1" height="34" fill="#fff"/>
<rect x="307" y="130" width="1" height="28" fill="#000"/>
<rect x="306" y="135" width="3" height="20" fill="#000"/>
<rect x="311" y="145" width="1" height="12" fill="#000"/>
<rect x="310" y="151" width="3" height="4" fill="#000"/>
<rect x="311" y="152" width="1" height="2" fill="#fff"/>
<rect x="315" y="127" width="1" height="21" fill="#000"/>
<rect x="314" y="136" width="3" height="8" fill="#000"/>
<rect x="315" y="137" width="1" height="6" fill="#fff"/>
<rect x="319" y="133" width="1" height="22" fill="#000"/>
<rect x="318" y="136" width="3" height="18" fill="#000"/>
<rect x="323" y="145" width="1" height="24" fill="#000"/>
<rect x="322" y="153" width="3" height="15" fill="#000"/>
<rect x="327" y="152" width="1" height="16" fill="#000"/>
<rect x="326" y="165" width="3" height="2" fill="#000"/>
<rect x="331" y="160" width="1" height="18" fill="#000"/>
<rect x="330" y="164" width="3" height="3" fill="#000"/>
<rect x="335" y="163" width="1" height="22" fill="#000"/>
<rect x="334" y="164" width="3" height="21" fill="#000"/>
<rect x="339" y="176" width="1" height="12" fill="#000"/>
<rect x="338" y="182" width="3" height="5" fill="#000"/>
<rect x="343" y="164" width="1" height="26" fill="#000"/>
<rect x="342" y="182" width="3" height="4" fill="#000"/>
<rect x="343" y="183" width="1" height="2" fill="#fff"/>
<rect x="347" y="176" width="1" height="15" fill="#000"/>
<rect x="346" y="180" width="3" height="3" fill="#000"/>
<rect x="351" y="163" width="1" height="24" fill="#000"/>
<rect x="350" y="173" width="3" height="9" fill="#000"/>
<rect x="351" y="174" width="1" height="7" fill="#fff"/>
<rect x="355" y="168" width="1" height="11" fill="#000"/>
<rect x="354" y="172" width="3" height="7" fill="#000"/>
<rect x="359" y="175" width="1" height="24" fill="#000"/>
<rect x="358" y="176" width="3" height="5" fill="#000"/>
<rect x="363" y="171" width="1" height="18" fill="#000"/>
<rect x="362" y="180" width="3" height="1" fill="#000"/>
<rect x="367" y="171" width="1" height="29" fill="#000"/>
<rect x="366" y="180" width="3" height="12" fill="#000"/>
<rect x="371" y="180" width="1" height="21" fill="#000"/>
<rect x="370" y="181" width="3" height="19" fill="#000"/>
<rect x="375" y="199" width="1" height="24" fill="#000"/>
<rect x="374" y="210" width="3" height="10" fill="#000"/>
<rect x="379" y="212" width="1" height="10" fill="#000"/>
<rect x="378" y="214" width="3" height="7" fill="#000"/>
<rect x="379" y="215" width="1" height="5" fill="#fff"/>
<rect x="383" y="210" width="1" height="13" fill="#000"/>
<rect x="382" y="214" width="3" height="7" fill="#000"/>
<rect x="383" y="215" width="1" height="5" fill="#fff"/>
<rect x="387" y="206" width="1" height="18" fill="#000"/>
<rect x="386" y="214" width="3" height="9" fill="#000"/>
<rect x="391" y="211" width="1" height="17" fill="#000"/>
<rect x="390" y="220" width="3" height="3" fill="#000"/>
<rect x="395" y="212" width="1" height="11" fill="#000"/>
<rect x="394" y="215" width="3" height="5" fill="#000"/>
<rect x="399" y="211" width="1" height="11" fill="#000"/>
<rect x="398" y="212" width="3" height="9" fill="#000"/>
<rect x="399" y="213" width="1" height="7" fill="#fff"/>
<rect x="403" y="198" width="1" height="16" fill="#000"/>
<rect x="402" y="206" width="3" height="7" fill="#000"/>
<rect x="403" y="207" width="1" height="5" fill="#fff"/>
<rect x="407" y="202" width="1" height="25" fill="#000"/>
<rect x="406" y="207" width="3" height="17" fill="#000"/>
<rect x="411" y="215" width="1" height="18" fill="#000"/>
<rect x="410" y="222" width="3" height="6" fill="#000"/>
<rect x="415" y="220" width="1" height="9" fill="#000"/>
<rect x="414" y="224" width="3" height="4" fill="#000"/>
<rect x="419" y="224" width="1" height="12" fill="#000"/>
<rect x="418" y="227" width="3" height="5" fill="#000"/>
<rect x="423" y="222" width="1" height="11" fill="#000"/>
<rect x="422" y="230" width="3" height="3" fill="#000"/>
<rect x="427" y="211" width="1" height="34" fill="#000"/>
<rect x="426" y="215" width="3" height="18" fill="#000"/>
<rect x="427" y="216" width="1" height="16" fill="#fff"/>
<rect x="431" y="207" width="1" height="14" fill="#000"/>
<rect x="430" y="212" width="3" height="4" fill="#000"/>
<rect x="431" y="213" width="1" height="2" fill="#fff"/>
<rect x="435" y="203" width="1" height="9" fill="#000"/>
<rect x="434" y="204" width="3" height="8" fill="#000"/>
<rect x="435" y="205" width="1" height="6" fill="#fff"/>
<rect x="439" y="202" width="1" height="19" fill="#000"/>
<rect x="438" y="204" width="3" height="17" fill="#000"/>
<rect x="443" y="210" width="1" height="11" fill="#000"/>
<rect x="442" y="218" width="3" height="3" fill="#000"/>
<rect x="443" y="219" width="1" height="1" fill="#fff"/>
<rect x="447" y="204" width="1" height="16" fill="#000"/>
<rect x="446" y="211" width="3" height="4" fill="#000"/>
<rect x="451" y="206" width="1" height="11" fill="#000"/>
<rect x="450" y="210" width="3" height="4" fill="#000"/>
<rect x="455" y="211" width="1" height="7" fill="#000"/>
<rect x="454" y="214" width="3" height="3" fill="#000"/>
<rect x="455" y="215" width="1" height="1" fill="#fff"/>
<rect x="459" y="194" width="1" height="23" fill="#000"/>
<rect x="458" y="201" width="3" height="16" fill="#000"/>
<rect x="459" y="202" width="1" height="14" fill="#fff"/>
<rect x="463" y="190" width="1" height="11" fill="#000"/>
<rect x="462" y="190" width="3" height="10" fill="#000"/>
<rect x="463" y="191" width="1" height="8" fill="#fff"/>
<rect x="467" y="160" width="1" height="31" fill="#000"/>
<rect x="466" y="177" width="3" height="10" fill="#000"/>
<rect x="467" y="178" width="1" height="8" fill="#fff"/>
<rect x="471" y="168" width="1" height="17" fill="#000"/>
<rect x="470" y="176" width="3" height="3" fill="#000"/>
<rect x="471" y="177" width="1" height="1" fill="#fff"/>
<rect x="475" y="168" width="1" height="14" fill="#000"/>
<rect x="474" y="174" width="3" height="7" fill="#000"/>
<rect x="475" y="175" width="1" height="5" fill="#fff"/>
<rect x="479" y="157" width="1" height="20" fill="#000"/>
<rect x="478" y="162" width="3" height="14" fill="#000"/>
<rect x="479" y="163" width="1" height="12" fill="#fff"/>
<rect x="483" y="153" width="1" height="11" fill="#000"/>
<rect x="482" y="158" width="3" height="5" fill="#000"/>
<rect x="483" y="159" width="1" height="3" fill="#fff"/>
<rect x="487" y="156" width="1" height="13" fill="#000"/>
<rect x="486" y="158" width="3" height="9" fill="#000"/>
<rect x="491" y="151" width="1" height="19" fill="#000"/>
<rect x="490" y="152" width="3" height="14" fill="#000"/>
<rect x="491" y="153" width="1" height="12" fill="#fff"/>
<rect x="495" y="148" width="1" height="16" fill="#000"/>
<rect x="494" y="156" width="3" height="7" fill="#000"/>
<rect x="495" y="157" width="1" height="5" fill="#fff"/>
<rect x="499" y="152" width="1" height="19" fill="#000"/>
<rect x="498" y="156" width="3" height="14" fill="#000"/>
<rect x="503" y="164" width="1" height="11" fill="#000"/>
<rect x="502" y="168" width="3" height="3" fill="#000"/>
<rect x="507" y="166" width="1" height="9" fill="#000"/>
<rect x="506" y="170" width="3" height="3" fill="#000"/>
<rect x="511" y="157" width="1" height="18" fill="#000"/>
<rect x="510" y="162" width="3" height="12" fill="#000"/>
<rect x="511" y="163" width="1" height="10" fill="#fff"/>
<rect x="515" y="143" width="1" height="23" fill="#000"/>
<rect x="514" y="145" width="3" height="14" fill="#000"/>
<rect x="515" y="146" width="1" height="12" fill="#fff"/>
<rect x="519" y="140" width="1" height="17" fill="#000"/>
<rect x="518" y="142" width="3" height="4" fill="#000"/>
<rect x="519" y="143" width="1" height="2" fill="#fff"/>
<rect x="523" y="107" width="1" height="40" fill="#000"/>
<rect x="522" y="113" width="3" height="34" fill="#000"/>
<rect x="523" y="114" width="1" height="32" fill="#fff"/>
<rect x="527" y="118" width="1" height="19" fill="#000"/>
<rect x="526" y="120" width="3" height="15" fill="#000"/>
<rect x="531" y="121" width="1" height="14" fill="#000"/>
<rect x="530" y="125" width="3" height="9" fill="#000"/>
<rect x="531" y="126" width="1" height="7" fill="#fff"/>
<rect x="535" y="118" width="1" height="19" fill="#000"/>
<rect x="534" y="124" width="3" height="11" fill="#000"/>
<rect x="539" y="122" width="1" height="16" fill="#000"/>
<rect x="538" y="128" width="3" height="8" fill="#000"/>
<rect x="539" y="129" width="1" height="6" fill="#fff"/>
<rect x="543" y="124" width="1" height="13" fill="#000"/>
<rect x="542" y="127" width="3" height="2" fill="#000"/>
<rect x="547" y="123" width="1" height="12" fill="#000"/>
<rect x="546" y="127" width="3" height="6" fill="#000"/>
<rect x="551" y="108" width="1" height="26" fill="#000"/>
<rect x="550" y="109" width="3" height="24" fill="#000"/>
<rect x="551" y="110" width="1" height="22" fill="#fff"/>
<rect x="555" y="97" width="1" height="22" fill="#000"/>
<rect x="554" y="99" width="3" height="20" fill="#000"/>
<rect x="555" y="100" width="1" height="18" fill="#fff"/>
<rect x="559" y="99" width="1" height="14" fill="#000"/>
<rect x="558" y="101" width="3" height="9" fill="#000"/>
<rect x="563" y="96" width="1" height="15" fill="#000"/>
<rect x="562" y="106" width="3" height="5" fill="#000"/>
<rect x="567" y="103" width="1" height="20" fill="#000"/>
<rect x="566" y="107" width="3" height="15" fill="#000"/>
<rect x="571" y="107" width="1" height="15" fill="#000"/>
<rect x="570" y="109" width="3" height="12" fill="#000"/>
<rect x="571" y="110" width="1" height="10" fill="#fff"/>
<rect x="575" y="105" width="1" height="12" fill="#000"/>
<rect x="574" y="109" width="3" height="2" fill="#000"/>
<rect x="579" y="97" width="1" height="15" fill="#000"/>
<rect x="578" y="102" width="3" height="9" fill="#000"/>
<rect x="579" y="103" width="1" height="7" fill="#fff"/>
<rect x="583" y="100" width="1" height="19" fill="#000"/>
<rect x="582" y="102" width="3" height="10" fill="#000"/>
<rect x="587" y="90" width="1" height="19" fill="#000"/>
<rect x="586" y="96" width="3" height="13" fill="#000"/>
<rect x="587" y="97" width="1" height="11" fill="#fff"/>
<rect x="591" y="76" width="1" height="22" fill="#000"/>
<rect x="590" y="78" width="3" height="20" fill="#000"/>
<rect x="591" y="79" width="1" height="18" fill="#fff"/>
<rect x="595" y="71" width="1" height="36" fill="#000"/>
<rect x="594" y="73" width="3" height="33" fill="#000"/>
<rect x="599" y="102" width="1" height="19" fill="#000"/>
<rect x="598" y="105" width="3" height="14" fill="#000"/>
<rect x="603" y="113" width="1" height="22" fill="#000"/>
<rect x="602" y="117" width="3" height="17" fill="#000"/>
<rect x="607" y="115" width="1" height="20" fill="#000"/>
<rect x="606" y="120" width="3" height="14" fill="#000"/>
<rect x="607" y="121" width="1" height="12" fill="#fff"/>
<rect x="611" y="81" width="1" height="41" fill="#000"/>
<rect x="610" y="82" width="3" height="39" fill="#000"/>
<rect x="611" y="83" width="1" height="37" fill="#fff"/>
<rect x="615" y="83" width="1" height="19" fill="#000"/>
<rect x="614" y="85" width="3" height="7" fill="#000"/>
<rect x="619" y="90" width="1" height="14" fill="#000"/>
<rect x="618" y="91" width="3" height="3" fill="#000"/>
<rect x="623" y="82" width="1" height="16" fill="#000"/>
<rect x="622" y="83" width="3" height="12" fill="#000"/>
<rect x="623" y="84" width="1" height="10" fill="#fff"/>
<rect x="627" y="78" width="1" height="34" fill="#000"/>
<rect x="626" y="83" width="3" height="21" fill="#000"/>
<rect x="631" y="102" width="1" height="14" fill="#000"/>
<rect x="630" y="105" width="3" height="9" fill="#000"/>
<line x1="4" y1="204.3" x2="660" y2="54.3" stroke="#0000FF"/>
<line x1="167" y1="291.3" x2="660" y2="178.2" stroke="#0000FF"/>
<polyline points="3.4,277.4 7.5,277.4 10.9,270.9 12.0,268.2 20.0,268.2 22.9,264.6 24.6,261.0 26.9,252.6 30.3,250.9 34.3,249.1 36.6,246.3 39.4,240.6 42.9,235.8 50.3,235.1 54.9,233.7 57.1,227.0 58.9,221.4 65.1,214.6 67.4,211.4 70.9,210.6 76.6,210.6 80.0,212.8 84.6,215.7 89.1,218.0 91.4,221.4 93.1,227.1 95.2,232.7 102.9,233.2 106.9,239.4 108.6,245.1 112.0,249.1 120.0,249.5 125.7,251.4 137.1,251.8 139.4,254.9 142.9,262.3 160.1,262.3 164.4,265.9 168.7,271.7 171.6,276.0 175.2,278.2 179.5,278.2 181.0,271.0 183.1,263.1 185.3,258.7 187.5,256.6 190.9,254.3 196.0,254.1 199.4,247.7 204.6,246.3 210.3,245.1 213.1,241.7 215.4,234.9 217.1,228.4 219.4,221.0 221.0,219.5 224.0,220.0 227.0,224.5 232.0,224.5 236.0,227.0 239.0,231.0 244.0,231.5 248.0,234.0 253.0,236.0 256.0,237.0 257.5,241.0 259.5,244.7 264.0,244.7 265.5,238.0 267.0,232.0 269.0,223.0 270.3,218.4 272.0,212.7 274.3,203.6 276.6,200.7 280.0,199.0 282.3,188.7 284.0,185.3 286.9,184.1 288.6,179.6 290.4,170.3 291.6,167.4 299.0,167.1 300.7,160.0 301.9,153.1 304.1,142.9 306.4,136.0 308.7,130.3 311.0,125.1 321.3,125.1 323.6,124.3 325.9,129.1 328.1,137.1 330.4,146.3 332.7,152.6 334.9,155.0 339.4,157.3 347.4,158.4 350.9,160.7 354.3,165.9 356.6,171.6 360.0,176.1 364.6,179.0 370.3,181.3 372.6,185.3 374.9,191.3 378.3,193.2 385.7,193.6 388.6,195.9 392.0,199.3 400.0,199.8 404.6,207.9 409.1,213.6 411.4,214.9 422.9,215.3 427.4,219.9 436.6,220.4 439.4,222.1 455.4,222.1 459.4,218.1 461.1,213.6 464.0,201.0 467.4,190.9 477.1,188.7 482.9,185.9 488.6,184.1 492.0,180.7 495.4,172.7 499.4,168.7 505.7,165.3 511.4,162.4 516.0,159.6 519.4,157.9 520.6,152.1 522.3,146.4 523.4,142.4 544.0,142.4 546.9,136.1 550.3,131.6 553.7,124.7 557.1,119.6 559.4,117.4 574.4,117.2 577.3,114.7 583.0,114.0 586.7,108.2 590.3,101.0 594.6,96.7 598.9,96.4 601.1,98.9 603.2,102.8 623.4,102.8 631.5,103.6" stroke="#FF0000"/>
<polyline points="3.4,269.4 9.0,269.4 12.6,273.7 18.9,276.6 22.9,273.7 25.0,268.0 27.4,261.0 30.3,260.2 34.3,256.6 38.9,250.9 42.9,248.6 51.4,248.3 54.9,246.3 75.4,246.0 80.0,238.9 81.5,237.4 106.3,237.2 109.7,233.9 114.3,233.1 122.3,233.1 125.7,231.4 136.0,231.4 139.4,233.7 142.9,236.6 160.0,237.3 163.4,239.4 166.9,243.4 171.4,244.9 174.9,252.0 178.9,257.9 182.9,259.1 186.9,255.4 190.9,254.3 196.0,254.1 199.4,247.7 267.2,247.7 268.6,242.9 270.3,234.9 273.1,222.0 274.9,216.1 278.9,213.9 281.1,201.3 283.4,188.7 287.4,185.3 288.6,179.6 289.5,176.0 291.0,169.4 352.0,169.4 354.3,167.6 366.9,167.6 368.6,162.4 370.3,146.4 371.4,144.7 374.9,149.9 388.6,150.1 391.4,152.1 394.3,157.9 396.6,167.0 398.9,175.0 400.0,177.4 406.9,177.4 410.3,179.7 415.4,180.3 420.0,185.4 422.9,189.6 427.4,197.6 432.0,201.6 436.6,203.1 452.6,203.1 458.9,207.3 462.3,207.3 466.9,202.1 480.0,199.5 493.0,196.1 510.3,195.8 514.6,193.2 518.9,190.3 521.1,184.6 522.5,177.4 524.7,174.5 529.0,173.8 530.4,168.7 537.6,165.1 546.3,163.7 552.0,161.5 554.9,157.2 559.3,155.8 562.9,148.1 567.2,143.0 571.5,139.4 578.7,137.2 584.5,135.4 588.8,129.5 591.0,125.5 594.6,124.1 611.2,124.1 614.8,118.3 619.1,112.6 623.4,108.2 627.7,105.3 631.5,105.3" stroke="#0000FF"/>
<polyline points="3.5,246.3 7.5,254.9 11.5,253.4 15.5,257.5 19.5,249.3 23.5,254.9 27.5,252.2 31.5,266.3 35.5,275.1 39.5,274.9 43.5,272.3 47.5,275.4 51.5,271.4 55.5,267.4 59.5,279.0 63.5,288.3 67.5,288.3 71.5,286.0 75.5,267.0 79.5,238.0 83.5,235.0 87.5,236.0 91.5,221.4 95.5,212.3 99.5,224.9 103.5,234.0 107.5,219.7 111.5,221.4 115.5,216.6 119.5,232.8 123.5,238.3 127.5,235.4 131.5,242.9 135.5,250.9 139.5,250.3 143.5,251.4 147.5,238.9 151.5,236.6 155.5,244.0 159.5,246.9 163.5,207.9 167.5,178.0 171.5,150.0 175.5,145.0 179.5,163.0 183.5,118.0 187.5,102.4 191.5,133.0 195.5,170.0 199.5,135.0 203.5,153.0 207.5,150.0 211.5,136.4 215.5,154.0 219.5,166.0 223.5,165.0 227.5,165.6 231.5,181.0 235.5,185.0 239.5,182.4 243.5,179.0 247.5,173.0 251.5,176.8 255.5,178.8 259.5,180.4 263.5,192.1 267.5,201.9 271.5,216.1 275.5,221.9 279.5,214.4 283.5,221.3 287.5,220.7 291.5,217.9 295.5,213.3 299.5,206.4 303.5,221.0 307.5,225.5 311.5,226.6 315.5,229.9 319.5,228.7 323.5,213.9 327.5,210.2 331.5,204.7 335.5,218.0 339.5,214.7 343.5,210.7 347.5,212.4 351.5,212.4 355.5,197.6 359.5,188.4 363.5,178.4 367.5,176.7 371.5,173.9 375.5,160.7 379.5,158.4 383.5,166.4 387.5,152.7 391.5,154.4 395.5,168.4 399.5,167.8 403.5,171.3 407.5,163.5 411.5,144.5 415.5,141.0 419.5,115.0 423.5,133.0 427.5,125.0 431.5,135.6 435.5,127.0 439.5,127.0 443.5,131.0 447.5,108.0 451.5,100.0 455.5,108.0 459.5,107.6 463.5,120.0 467.5,109.0 471.5,109.0 475.5,102.0 479.5,109.0 483.5,93.0 487.5,78.4 491.5,103.0 495.5,118.0 499.5,132.0 503.5,118.0 507.5,83.0 511.5,89.0 515.5,93.0 519.5,83.0 523.5,106.0 527.5,113.0" stroke="#00FF00"/>
<polyline points="3.4,253.7 20.0,252.8 23.0,250.0 25.0,247.5 28.6,241.7 32.0,235.0 38.9,223.7 45.7,211.1 51.4,203.1 57.1,194.0 61.7,187.7 66.3,183.5 72.0,182.3 80.0,182.5 84.6,186.0 90.3,188.9 97.1,190.3 102.9,190.3 109.7,189.4 114.3,188.9 119.4,192.3 126.9,194.0 131.4,199.1 137.1,206.0 140.6,209.4 144.0,215.7 148.6,223.1 154.3,229.4 160.0,234.0 165.7,238.3 171.4,240.6 177.1,240.6 182.9,238.0 188.6,234.0 193.1,228.4 196.6,220.4 201.1,213.6 206.9,210.1 211.4,205.0 216.0,199.9 219.4,195.9 226.3,194.1 233.1,193.0 240.0,194.6 244.6,196.1 250.3,202.4 256.0,208.7 260.6,209.9 265.1,209.3 268.6,204.7 270.9,195.6 273.1,186.4 275.5,176.0 280.1,162.3 283.6,150.9 287.0,139.4 289.3,130.3 291.6,119.0 295.0,109.1 298.4,105.7 303.0,96.6 308.7,90.9 315.6,83.8 322.4,84.0 326.9,87.4 331.4,89.7 336.0,94.3 339.4,99.4 341.1,104.0 342.9,109.7 346.3,112.3 354.3,114.1 362.9,114.9 366.9,118.9 369.1,124.6 371.4,130.9 376.0,131.2 379.4,129.7 382.9,134.0 388.6,136.6 390.9,137.9 395.4,144.1 400.0,152.0 405.7,158.0 411.4,163.1 417.1,166.0 422.9,168.3 428.6,174.6 434.3,181.4 438.9,188.0 442.3,194.1 445.7,198.1 450.3,201.6 456.0,202.7 459.4,199.9 462.9,195.3 465.7,189.6 467.4,185.5 471.4,179.6 477.1,168.1 482.9,159.6 488.6,151.0 494.3,143.0 500.0,141.0 506.9,140.5 511.4,137.9 517.1,132.7 521.7,125.3 526.3,120.7 530.9,117.9 536.6,116.7 542.3,114.4 548.0,112.1 551.4,107.6 554.9,101.9 559.4,97.0 564.3,92.4 568.6,90.9 574.4,86.6 580.2,85.2 585.9,85.9 591.7,83.0 597.5,84.5 603.2,85.9 609.0,85.2 611.9,80.9 617.6,79.4 623.4,77.2 631.5,76.8" stroke="#3CB371" stroke-width="2" stroke-linejoin="round"/>
<polyline points="3.4,275.0 20.6,274.9 25.0,273.0 28.6,270.9 34.3,265.7 40.0,262.3 45.7,258.3 51.4,252.6 57.1,246.3 62.9,242.3 68.6,238.9 74.3,235.4 80.0,232.0 86.9,229.0 94.9,227.1 102.9,227.4 109.7,228.9 116.6,231.7 120.0,232.6 125.7,235.4 131.4,239.4 137.1,244.0 142.9,248.6 148.6,252.6 154.3,256.0 160.0,258.6 165.7,262.3 171.4,265.1 177.1,266.9 182.9,266.3 188.6,264.8 194.3,262.3 200.0,259.4 205.7,258.6 211.4,256.0 217.1,252.6 222.9,249.1 228.6,246.0 234.3,243.4 240.0,241.7 245.7,239.4 251.4,236.6 256.0,233.8 262.9,233.6 268.6,232.3 272.0,228.0 274.3,227.6 280.0,221.9 285.7,216.1 291.4,209.3 297.1,203.6 302.9,199.0 308.6,193.3 314.3,186.4 320.0,179.0 325.7,171.6 331.4,165.3 337.1,160.7 342.9,157.3 348.6,155.9 354.3,156.7 360.0,158.8 365.7,161.3 371.4,167.0 377.1,172.7 382.9,177.3 388.6,181.9 394.3,186.4 400.0,191.5 405.7,196.4 411.4,200.4 417.1,203.9 422.9,207.3 428.6,210.7 434.3,212.4 440.0,215.3 445.7,217.6 451.4,218.1 457.1,217.0 462.9,215.3 468.6,212.4 474.3,208.4 480.0,205.8 494.4,196.1 508.8,184.6 517.1,177.9 523.2,171.6 528.6,165.9 534.8,159.0 540.0,154.4 543.4,152.0 549.1,147.6 557.1,141.9 564.0,136.7 570.9,132.7 577.7,129.3 581.6,125.6 588.8,118.3 594.6,114.7 603.2,114.0 610.4,111.8 614.8,108.9 620.5,106.1 626.3,103.9 631.5,103.2" stroke="#3CB371" stroke-width="2" stroke-linejoin="round"/>
<polyline points="3.4,296.9 18.3,296.9 20.6,298.0 30.9,298.2 35.4,299.5 39.4,304.9 45.7,304.9 51.4,299.1 59.4,298.6 62.9,297.4 67.4,294.0 72.0,291.5 75.4,287.1 80.0,281.5 85.7,273.7 91.4,268.0 97.1,263.4 100.6,262.3 106.3,265.1 112.0,269.7 118.9,273.7 125.7,277.1 131.4,278.9 139.4,281.7 148.6,282.9 158.6,283.0 163.0,284.7 167.3,289.0 171.6,291.2 178.8,291.9 183.1,294.5 188.9,296.2 193.2,300.5 199.0,304.1 204.8,306.3 210.5,307.0 216.3,306.3 222.0,303.4 227.8,299.8 233.6,295.5 239.3,291.9 243.7,286.1 248.0,278.9 249.1,273.7 253.7,263.4 257.1,258.9 260.6,257.9 266.3,258.6 269.7,262.3 273.1,270.3 276.6,278.3 280.0,284.6 285.0,290.0 291.0,294.5 298.0,297.0 305.8,296.9 310.1,291.3 315.9,282.6 321.6,269.7 325.9,258.1 330.3,246.6 334.6,235.1 337.1,230.7 340.6,218.1 342.9,205.6 347.4,199.3 353.1,199.3 357.7,202.7 365.7,206.7 370.9,205.0 373.7,209.0 377.1,217.0 382.9,223.9 388.6,230.1 392.0,232.5 397.2,233.4 404.4,235.2 411.6,239.5 418.8,244.5 424.6,246.0 428.9,245.5 434.7,242.4 440.4,238.8 447.6,233.7 453.4,232.0 459.2,233.0 464.9,237.3 470.7,240.7 475.8,242.5 481.5,246.8 485.9,247.9 491.6,246.8 495.9,243.9 500.3,237.4 504.6,231.7 510.3,227.3 516.1,224.5 520.4,220.1 526.2,217.2 529.1,212.2 533.3,200.4 540.5,191.8 549.2,185.3 560.7,182.8 564.3,181.9 568.6,178.3 574.4,176.2 578.7,171.1 583.1,163.2 588.8,153.8 594.6,145.9 598.9,142.0 604.7,143.0 611.9,140.1 617.6,136.8 623.4,134.4 627.0,131.0 631.5,131.0" stroke="#3CB371" stroke-width="2" stroke-linejoin="round"/>
</g>
<rect x="3" y="404" width="1" height="3" fill="#00BFFF"/>
<rect x="7" y="404" width="1" height="3" fill="#00BFFF"/>
<rect x="11" y="404" width="1" height="2" fill="#00BFFF"/>
<rect x="15" y="404" width="1" height="2" fill="#00BFFF"/>
<rect x="19" y="404" width="1" height="2" fill="#00BFFF"/>
<rect x="23" y="404" width="1" height="1" fill="#00BFFF"/>
<rect x="27" y="401" width="1" height="4" fill="#00BFFF"/>
<rect x="31" y="398" width="1" height="7" fill="#00BFFF"/>
<rect x="35" y="396" width="1" height="9" fill="#00BFFF"/>
<rect x="39" y="392" width="1" height="13" fill="#00BFFF"/>
<rect x="43" y="389" width="1" height="16" fill="#00BFFF"/>
<rect x="47" y="387" width="1" height="18" fill="#00BFFF"/>
<rect x="51" y="386" width="1" height="19" fill="#00BFFF"/>
<rect x="55" y="385" width="1" height="20" fill="#00BFFF"/>
<rect x="59" y="384" width="1" height="21" fill="#00BFFF"/>
<rect x="63" y="385" width="1" height="20" fill="#00BFFF"/>
<rect x="67" y="386" width="1" height="19" fill="#00BFFF"/>
<rect x="71" y="388" width="1" height="17" fill="#00BFFF"/>
<rect x="75" y="391" width="1" height="14" fill="#00BFFF"/>
<rect x="79" y="393" width="1" height="12" fill="#00BFFF"/>
<rect x="83" y="395" width="1" height="10" fill="#00BFFF"/>
<rect x="87" y="397" width="1" height="8" fill="#00BFFF"/>
<rect x="91" y="401" width="1" height="4" fill="#00BFFF"/>
<rect x="95" y="403" width="1" height="2" fill="#00BFFF"/>
<rect x="99" y="404" width="1" height="1" fill="#00BFFF"/>
<rect x="103" y="404" width="1" height="1" fill="#00BFFF"/>
<rect x="107" y="404" width="1" height="1" fill="#00BFFF"/>
<rect x="111" y="404" width="1" height="2" fill="#00BFFF"/>
<rect x="115" y="404" width="1" height="3" fill="#00BFFF"/>
<rect x="119" y="404" width="1" height="3" fill="#00BFFF"/>
<rect x="123" y="404" width="1" height="3" fill="#00BFFF"/>
<rect x="127" y="404" width="1" height="3" fill="#00BFFF"/>
<rect x="131" y="404" width="1" height="3" fill="#00BFFF"/>
<rect x="135" y="404" width="1" height="4" fill="#00BFFF"/>
<rect x="139" y="404" width="1" height="6" fill="#00BFFF"/>
<rect x="143" y="404" width="1" height="8" fill="#00BFFF"/>
<rect x="147" y="404" width="1" height="9" fill="#00BFFF"/>
<rect x="151" y="404" width="1" height="9" fill="#00BFFF"/>
<rect x="155" y="404" width="1" height="9" fill="#00BFFF"/>
<rect x="159" y="404" width="1" height="9" fill="#00BFFF"/>
<rect x="163" y="404" width="1" height="10" fill="#00BFFF"/>
<rect x="167" y="404" width="1" height="11" fill="#00BFFF"/>
<rect x="171" y="404" width="1" height="12" fill="#00BFFF"/>
<rect x="175" y="404" width="1" height="12" fill="#00BFFF"/>
<rect x="179" y="404" width="1" height="11" fill="#00BFFF"/>
<rect x="183" y="404" width="1" height="7" fill="#00BFFF"/>
<rect x="187" y="404" width="1" height="3" fill="#00BFFF"/>
<rect x="191" y="404" width="1" height="1" fill="#00BFFF"/>
<rect x="195" y="401" width="1" height="4" fill="#00BFFF"/>
<rect x="199" y="397" width="1" height="8" fill="#00BFFF"/>
<rect x="203" y="396" width="1" height="9" fill="#00BFFF"/>
<rect x="207" y="396" width="1" height="9" fill="#00BFFF"/>
<rect x="211" y="394" width="1" height="11" fill="#00BFFF"/>
<rect x="215" y="393" width="1" height="12" fill="#00BFFF"/>
<rect x="219" y="392" width="1" height="13" fill="#00BFFF"/>
<rect x="223" y="393" width="1" height="12" fill="#00BFFF"/>
<rect x="227" y="394" width="1" height="11" fill="#00BFFF"/>
<rect x="231" y="396" width="1" height="9" fill="#00BFFF"/>
<rect x="235" y="397" width="1" height="8" fill="#00BFFF"/>
<rect x="239" y="399" width="1" height="6" fill="#00BFFF"/>
<rect x="243" y="401" width="1" height="4" fill="#00BFFF"/>
<rect x="247" y="402" width="1" height="3" fill="#00BFFF"/>
<rect x="251" y="402" width="1" height="3" fill="#00BFFF"/>
<rect x="255" y="402" width="1" height="3" fill="#00BFFF"/>
<rect x="259" y="403" width="1" height="2" fill="#00BFFF"/>
<rect x="263" y="404" width="1" height="1" fill="#00BFFF"/>
<rect x="267" y="401" width="1" height="4" fill="#00BFFF"/>
<rect x="271" y="395" width="1" height="10" fill="#00BFFF"/>
<rect x="275" y="389" width="1" height="16" fill="#00BFFF"/>
<rect x="279" y="383" width="1" height="22" fill="#00BFFF"/>
<rect x="283" y="381" width="1" height="24" fill="#00BFFF"/>
<rect x="287" y="375" width="1" height="30" fill="#00BFFF"/>
<rect x="291" y="369" width="1" height="36" fill="#00BFFF"/>
<rect x="295" y="368" width="1" height="37" fill="#00BFFF"/>
<rect x="299" y="371" width="1" height="34" fill="#00BFFF"/>
<rect x="303" y="370" width="1" height="35" fill="#00BFFF"/>
<rect x="307" y="372" width="1" height="33" fill="#00BFFF"/>
<rect x="311" y="374" width="1" height="31" fill="#00BFFF"/>
<rect x="315" y="373" width="1" height="32" fill="#00BFFF"/>
<rect x="319" y="375" width="1" height="30" fill="#00BFFF"/>
<rect x="323" y="378" width="1" height="27" fill="#00BFFF"/>
<rect x="327" y="381" width="1" height="24" fill="#00BFFF"/>
<rect x="331" y="383" width="1" height="22" fill="#00BFFF"/>
<rect x="335" y="387" width="1" height="18" fill="#00BFFF"/>
<rect x="339" y="391" width="1" height="14" fill="#00BFFF"/>
<rect x="343" y="393" width="1" height="12" fill="#00BFFF"/>
<rect x="347" y="395" width="1" height="10" fill="#00BFFF"/>
<rect x="351" y="396" width="1" height="9" fill="#00BFFF"/>
<rect x="355" y="397" width="1" height="8" fill="#00BFFF"/>
<rect x="359" y="399" width="1" height="6" fill="#00BFFF"/>
<rect x="363" y="400" width="1" height="5" fill="#00BFFF"/>
<rect x="367" y="402" width="1" height="3" fill="#00BFFF"/>
<rect x="371" y="405" width="1" height="0" fill="#00BFFF"/>
<rect x="375" y="404" width="1" height="3" fill="#00BFFF"/>
<rect x="379" y="404" width="1" height="6" fill="#00BFFF"/>
<rect x="383" y="404" width="1" height="8" fill="#00BFFF"/>
<rect x="387" y="404" width="1" height="10" fill="#00BFFF"/>
<rect x="391" y="404" width="1" height="11" fill="#00BFFF"/>
<rect x="395" y="404" width="1" height="12" fill="#00BFFF"/>
<rect x="399" y="404" width="1" height="12" fill="#00BFFF"/>
<rect x="403" y="404" width="1" height="11" fill="#00BFFF"/>
<rect x="407" y="404" width="1" height="11" fill="#00BFFF"/>
<rect x="411" y="404" width="1" height="12" fill="#00BFFF"/>
<rect x="415" y="404" width="1" height="12" fill="#00BFFF"/>
<rect x="419" y="404" width="1" height="12" fill="#00BFFF"/>
<rect x="423" y="404" width="1" height="14" fill="#00BFFF"/>
<rect x="427" y="404" width="1" height="13" fill="#00BFFF"/>
<rect x="431" y="404" width="1" height="11" fill="#00BFFF"/>
<rect x="435" y="404" width="1" height="8" fill="#00BFFF"/>
<rect x="439" y="404" width="1" height="8" fill="#00BFFF"/>
<rect x="443" y="404" width="1" height="7" fill="#00BFFF"/>
<rect x="447" y="404" width="1" height="6" fill="#00BFFF"/>
<rect x="451" y="404" width="1" height="6" fill="#00BFFF"/>
<rect x="455" y="404" width="1" height="5" fill="#00BFFF"/>
<rect x="459" y="404" width="1" height="3" fill="#00BFFF"/>
<rect x="463" y="404" width="1" height="1" fill="#00BFFF"/>
<rect x="467" y="403" width="1" height="2" fill="#00BFFF"/>
<rect x="471" y="400" width="1" height="5" fill="#00BFFF"/>
<rect x="475" y="399" width="1" height="6" fill="#00BFFF"/>
<rect x="479" y="396" width="1" height="9" fill="#00BFFF"/>
<rect x="483" y="393" width="1" height="12" fill="#00BFFF"/>
<rect x="487" y="392" width="1" height="13" fill="#00BFFF"/>
<rect x="491" y="390" width="1" height="15" fill="#00BFFF"/>
<rect x="495" y="389" width="1" height="16" fill="#00BFFF"/>
<rect x="499" y="390" width="1" height="15" fill="#00BFFF"/>
<rect x="503" y="390" width="1" height="15" fill="#00BFFF"/>
<rect x="507" y="391" width="1" height="14" fill="#00BFFF"/>
<rect x="511" y="391" width="1" height="14" fill="#00BFFF"/>
<rect x="515" y="390" width="1" height="15" fill="#00BFFF"/>
<rect x="519" y="389" width="1" height="16" fill="#00BFFF"/>
<rect x="523" y="385" width="1" height="20" fill="#00BFFF"/>
<rect x="527" y="385" width="1" height="20" fill="#00BFFF"/>
<rect x="531" y="384" width="1" height="21" fill="#00BFFF"/>
<rect x="535" y="384" width="1" height="21" fill="#00BFFF"/>
<rect x="539" y="384" width="1" height="21" fill="#00BFFF"/>
<rect x="543" y="383" width="1" height="22" fill="#00BFFF"/>
<rect x="547" y="384" width="1" height="21" fill="#00BFFF"/>
<rect x="551" y="383" width="1" height="22" fill="#00BFFF"/>
<rect x="555" y="381" width="1" height="24" fill="#00BFFF"/>
<rect x="559" y="381" width="1" height="24" fill="#00BFFF"/>
<rect x="563" y="381" width="1" height="24" fill="#00BFFF"/>
<rect x="567" y="382" width="1" height="23" fill="#00BFFF"/>
<rect x="571" y="382" width="1" height="23" fill="#00BFFF"/>
<rect x="575" y="383" width="1" height="22" fill="#00BFFF"/>
<rect x="579" y="383" width="1" height="22" fill="#00BFFF"/>
<rect x="583" y="384" width="1" height="21" fill="#00BFFF"/>
<rect x="587" y="384" width="1" height="21" fill="#00BFFF"/>
<rect x="591" y="382" width="1" height="23" fill="#00BFFF"/>
<rect x="595" y="383" width="1" height="22" fill="#00BFFF"/>
<rect x="599" y="386" width="1" height="19" fill="#00BFFF"/>
<rect x="603" y="390" width="1" height="15" fill="#00BFFF"/>
<rect x="607" y="392" width="1" height="13" fill="#00BFFF"/>
<rect x="611" y="390" width="1" height="15" fill="#00BFFF"/>
<rect x="615" y="389" width="1" height="16" fill="#00BFFF"/>
<rect x="619" y="389" width="1" height="16" fill="#00BFFF"/>
<rect x="623" y="388" width="1" height="17" fill="#00BFFF"/>
<rect x="627" y="390" width="1" height="15" fill="#00BFFF"/>
<rect x="631" y="392" width="1" height="13" fill="#00BFFF"/>
<polyline points="3.5,410.1 11.0,407.8 18.9,406.9 28.3,405.3 33.8,403.4 40.9,400.3 47.2,397.2 53.5,394.0 59.0,391.3 64.5,388.2 69.2,386.5 77.0,386.2 83.3,386.3 88.8,387.3 94.3,389.3 100.6,392.8 106.3,396.4 112.6,400.0 118.9,402.7 124.4,405.0 129.9,406.3 136.2,407.5 142.5,409.4 148.7,409.7 154.2,410.8 160.5,412.6 166.0,413.7 172.3,414.5 178.6,414.8 184.9,414.1 190.4,413.5 196.7,410.1 203.0,407.4 208.6,403.9 214.2,400.4 220.4,396.5 225.9,394.4 238.5,394.4 244.8,395.4 250.3,396.3 256.6,398.4 262.9,400.4 268.4,400.4 274.7,399.5 280.2,396.0 286.5,392.1 292.8,387.4 298.3,381.6 303.5,377.2 306.3,373.7 315.7,371.6 322.8,371.3 328.3,372.7 334.6,375.9 340.9,379.0 346.4,382.7 352.7,386.9 358.2,389.7 364.5,392.6 370.8,395.7 376.3,398.8 382.5,401.5 388.1,404.7 394.3,407.8 400.6,410.5 406.3,413.3 412.6,414.6 418.9,416.1 424.4,416.5 430.7,416.5 436.2,416.1 442.5,415.4 448.0,414.9 454.2,413.3 460.5,411.7 466.0,409.4 472.3,407.8 478.6,404.7 484.9,401.5 490.4,398.8 496.7,395.2 503.0,392.6 507.9,391.3 514.2,390.5 520.4,389.4 525.9,388.2 532.2,387.4 538.5,386.6 544.8,385.0 550.3,383.4 556.6,383.1 562.9,382.3 568.4,382.2 573.9,381.4 592.8,381.4 598.3,382.3 604.6,383.1 610.0,384.2 616.0,386.4 622.0,387.1 629.0,388.4 631.5,388.8" stroke="#FF0000" stroke-dasharray="3 3"/>
<line x1="3" y1="435.5" x2="659" y2="435.5" stroke="#C0C0C0" stroke-dasharray="3 3"/>
<line x1="3" y1="468.5" x2="659" y2="468.5" stroke="#C0C0C0" stroke-dasharray="3 3"/>
<polyline points="3.5,465.6 7.5,463.0 11.5,458.7 15.5,452.3 19.5,453.7 23.5,444.4 27.5,441.6 31.5,435.1 35.5,436.6 39.5,433.7 43.5,437.3 47.5,440.9 51.5,448.7 55.5,444.4 59.5,443.4 63.5,444.1 67.5,450.9 71.5,460.1 75.5,471.6 79.5,477.3 83.5,477.3 87.5,476.1 91.5,474.4 95.5,473.0 99.5,471.3 103.5,468.4 107.5,459.4 111.5,455.1 115.5,452.3 119.5,459.4 123.5,458.0 127.5,459.0 131.5,453.3 135.5,461.9 139.5,469.0 143.5,474.4 147.5,470.9 151.5,466.6 155.5,460.4 159.5,452.7 163.5,451.1 167.5,461.3 171.5,472.3 175.5,471.3 179.5,455.1 183.5,438.7 187.5,433.3 191.5,434.6 195.5,433.3 199.5,431.3 203.5,435.9 207.5,450.1 211.5,460.4 215.5,460.4 219.5,451.6 223.5,455.9 227.5,460.9 231.5,465.9 235.5,468.0 239.5,471.9 243.5,474.1 247.5,474.4 251.5,460.9 255.5,446.6 259.5,440.9 263.5,448.7 267.5,443.7 271.5,437.0 275.5,430.1 279.5,429.0 283.5,433.3 287.5,435.2 291.5,438.0 295.5,440.9 299.5,455.9 303.5,463.7 307.5,468.4 311.5,462.3 315.5,459.9 319.5,454.4 323.5,456.6 327.5,468.7 331.5,473.0 335.5,473.3 339.5,474.1 343.5,475.1 347.5,469.4 351.5,460.4 355.5,454.4 359.5,450.1 363.5,451.6 367.5,457.3 371.5,465.1 375.5,473.0 379.5,476.3 383.5,474.4 387.5,474.4 391.5,470.9 395.5,468.7 399.5,457.3 403.5,446.1 407.5,453.0 411.5,461.3 415.5,469.0 419.5,470.1 423.5,471.3 427.5,458.7 431.5,444.1 435.5,429.0 439.5,435.1 443.5,440.1 447.5,445.1 451.5,446.1 455.5,453.4 459.5,445.9 463.5,437.3 467.5,436.1 471.5,438.0 475.5,440.2 479.5,436.4 483.5,434.1 487.5,435.1 491.5,435.6 495.5,437.3 499.5,445.1 503.5,458.0 507.5,469.4 511.5,460.4 515.5,446.6 519.5,436.6 523.5,430.1 527.5,436.6 531.5,438.7 535.5,446.6 539.5,449.4 543.5,453.3 547.5,453.3 551.5,443.7 555.5,434.4 559.5,433.3 563.5,438.0 567.5,447.6 571.5,450.4 575.5,455.1 579.5,450.0 583.5,448.0 587.5,442.0 591.5,436.0 595.5,445.4 599.5,460.0 603.5,472.9 607.5,474.3 611.5,461.7 615.5,445.4 619.5,435.2 623.5,432.6 627.5,440.3 631.5,451.4" stroke="#20B2AA"/>
<polyline points="3.5,450.1 6.4,457.3 11.4,461.6 15.7,458.0 20.0,454.4 25.0,448.7 30.0,443.0 35.0,438.0 40.0,435.1 45.7,436.6 51.4,441.6 57.1,445.1 62.9,444.4 68.6,448.7 72.9,455.9 77.1,465.1 81.4,473.0 85.7,477.0 91.4,476.6 96.4,473.7 102.1,470.9 108.6,465.1 113.6,458.0 117.9,455.6 123.6,457.0 129.3,457.6 136.4,458.7 140.7,464.4 145.0,469.4 150.7,471.3 156.4,465.9 160.7,458.7 165.0,455.6 169.3,459.4 173.6,465.9 178.6,466.6 182.1,458.7 186.4,445.9 190.7,437.5 194.3,434.4 198.6,433.3 203.6,433.7 207.1,438.7 211.4,448.0 215.7,457.3 220.0,456.6 226.4,455.6 231.4,460.4 235.7,465.1 241.4,469.4 247.1,473.7 250.7,469.4 254.3,461.6 257.9,452.3 260.7,447.6 265.7,444.4 271.4,441.6 275.7,436.6 280.0,431.6 284.3,431.9 289.3,434.3 293.6,437.3 297.9,443.0 302.1,451.6 306.4,460.1 310.7,465.1 315.7,463.7 320.7,458.0 324.3,457.3 327.9,460.9 332.1,466.6 336.4,471.6 342.1,473.7 346.4,473.3 351.4,468.7 355.7,461.6 360.7,455.1 365.0,452.3 369.3,455.9 373.6,463.0 377.9,469.4 382.1,473.7 387.9,475.1 394.3,472.3 398.6,465.9 402.9,459.4 407.1,453.7 410.7,452.7 414.3,458.0 417.9,464.4 422.9,469.9 427.1,466.6 430.7,458.7 434.3,447.3 437.1,439.4 440.7,435.9 445.0,437.0 450.0,442.3 455.7,448.4 461.4,446.6 465.7,440.9 470.0,437.3 474.3,438.0 479.3,437.6 483.6,436.6 489.3,435.6 495.0,436.6 500.0,440.1 503.6,447.3 507.1,455.1 510.0,460.9 513.6,461.6 517.1,455.9 520.0,447.3 523.6,438.4 528.6,434.4 532.9,437.3 537.9,444.4 543.6,450.1 549.3,450.9 553.6,445.9 557.9,438.7 562.1,435.6 567.1,439.4 572.1,445.9 575.0,449.4 580.0,449.7 583.4,449.7 588.6,444.6 593.7,440.3 598.0,444.6 602.3,454.0 605.7,464.3 609.2,468.6 613.4,465.2 616.9,455.7 621.2,444.6 625.5,436.9 628.9,438.2 631.5,441.2" stroke="#FF0000" stroke-dasharray="3 3"/>
<g fill="#000">
<rect x="2" y="2" width="1" height="478"/>
<rect x="659" y="2" width="1" height="478"/>
<rect x="2" y="2" width="658" height="1"/>
<rect x="2" y="361" width="658" height="1"/>
<rect x="2" y="363" width="658" height="1"/>
<rect x="2" y="421" width="658" height="1"/>
<rect x="2" y="423" width="658" height="1"/>
<rect x="2" y="479" width="658" height="1"/>
<rect x="660" y="19" width="2" height="1"/>
<rect x="660" y="53" width="2" height="1"/>
<rect x="660" y="87" width="2" height="1"/>
<rect x="660" y="120" width="2" height="1"/>
<rect x="660" y="154" width="2" height="1"/>
<rect x="660" y="188" width="2" height="1"/>
<rect x="660" y="223" width="2" height="1"/>
<rect x="660" y="257" width="2" height="1"/>
<rect x="660" y="291" width="2" height="1"/>
<rect x="660" y="325" width="2" height="1"/>
<rect x="660" y="359" width="2" height="1"/>
<rect x="660" y="363" width="2" height="1"/>
<rect x="660" y="404" width="2" height="1"/>
<rect x="660" y="421" width="2" height="1"/>
<rect x="660" y="423" width="2" height="1"/>
<rect x="660" y="435" width="2" height="1"/>
<rect x="660" y="468" width="2" height="1"/>
<rect x="3" y="480" width="1" height="4"/>
<rect x="67" y="480" width="1" height="4"/>
<rect x="131" y="480" width="1" height="4"/>
<rect x="195" y="480" width="1" height="4"/>
<rect x="259" y="480" width="1" height="4"/>
<rect x="323" y="480" width="1" height="4"/>
<rect x="387" y="480" width="1" height="4"/>
<rect x="451" y="480" width="1" height="4"/>
<rect x="515" y="480" width="1" height="4"/>
<rect x="579" y="480" width="1" height="4"/>
</g>
<rect x="611" y="3" width="1" height="476" fill="#FF0000"/>
</g>
<g font-size="9.33px" fill="#000" stroke="#000" stroke-width="0.25">
<rect x="6" y="9" width="7" height="1" shape-rendering="crispEdges"/>
<rect x="7" y="10" width="5" height="1" shape-rendering="crispEdges"/>
<rect x="8" y="11" width="3" height="1" shape-rendering="crispEdges"/>
<rect x="9" y="12" width="1" height="1" shape-rendering="crispEdges"/>
<text x="18" y="14" textLength="63.5" lengthAdjust="spacingAndGlyphs">EURGBP,Daily</text>
<text x="7" y="376">MACD(12,26,9) 0.00244 0.00294</text>
<text x="7" y="436">Stoch(5,3,3) 49.5238 68.5499</text>
<text x="665" y="23">0.8875</text>
<text x="665" y="57">0.8795</text>
<text x="665" y="91">0.8715</text>
<text x="665" y="124">0.8640</text>
<text x="665" y="158">0.8560</text>
<text x="665" y="192">0.8480</text>
<text x="665" y="227">0.8400</text>
<text x="665" y="261">0.8320</text>
<text x="665" y="295">0.8245</text>
<text x="665" y="329">0.8165</text>
<text x="665" y="363">0.8085</text>
<text x="663" y="374">0.00756</text>
<text x="663" y="408">0.00</text>
<text x="663" y="417.5">-0.00321</text>
<text x="663.5" y="433.5">100</text>
<text x="662.5" y="439">80</text>
<text x="662.5" y="471.5">20</text>
<text x="663" y="476">0</text>
<text x="2" y="492">31 Dec 2024</text>
<text x="66" y="492">23 Jan 2025</text>
<text x="130" y="492">14 Feb 2025</text>
<text x="194" y="492">10 Mar 2025</text>
<text x="258" y="492">1 Apr 2025</text>
<text x="322" y="492">23 Apr 2025</text>
<text x="386" y="492">15 May 2025</text>
<text x="450" y="492">6 Jun 2025</text>
<text x="514" y="492">30 Jun 2025</text>
<rect x="661" y="107" width="36" height="12" fill="#000" shape-rendering="crispEdges"/>
<text x="665" y="117" fill="#fff" stroke="none">0.8655</text>
<rect x="661" y="23" width="36" height="11" fill="#FFC0CB" shape-rendering="crispEdges"/>
<text x="665.4" y="32" fill="#fff" stroke="none">0.8850</text>
<rect x="661" y="50" width="36" height="11" fill="#0000FF" shape-rendering="crispEdges"/>
<text x="665.4" y="59" fill="#fff" stroke="none">0.8789</text>
<rect x="661" y="76" width="36" height="11" fill="#FFA500" shape-rendering="crispEdges"/>
<text x="665.4" y="85" fill="#fff" stroke="none">0.8728</text>
<rect x="661" y="102" width="36" height="11" fill="#FF0000" shape-rendering="crispEdges"/>
<text x="665.4" y="111" fill="#fff" stroke="none">0.8667</text>
<rect x="661" y="128" width="36" height="11" fill="#6B8E23" shape-rendering="crispEdges"/>
<text x="665.4" y="137" fill="#fff" stroke="none">0.8606</text>
<rect x="661" y="155" width="36" height="11" fill="#0000FF" shape-rendering="crispEdges"/>
<text x="665.4" y="164" fill="#fff" stroke="none">0.8545</text>
<rect x="661" y="181" width="36" height="11" fill="#6B8E23" shape-rendering="crispEdges"/>
<text x="665.4" y="190" fill="#fff" stroke="none">0.8484</text>
<rect x="661" y="207" width="36" height="11" fill="#FF0000" shape-rendering="crispEdges"/>
<text x="665.4" y="216" fill="#fff" stroke="none">0.8423</text>
<rect x="661" y="233" width="36" height="11" fill="#FFA500" shape-rendering="crispEdges"/>
<text x="665.4" y="242" fill="#fff" stroke="none">0.8362</text>
<rect x="661" y="260" width="36" height="11" fill="#0000FF" shape-rendering="crispEdges"/>
<text x="665.4" y="269" fill="#fff" stroke="none">0.8301</text>
<rect x="661" y="286" width="36" height="11" fill="#FFC0CB" shape-rendering="crispEdges"/>
<text x="665.4" y="295" fill="#fff" stroke="none">0.8240</text>
<rect x="661" y="312" width="36" height="11" fill="#FF00FF" shape-rendering="crispEdges"/>
<text x="665.4" y="321" fill="#fff" stroke="none">0.8179</text>
<rect x="571" y="483" width="80" height="11" fill="#FF0000" shape-rendering="crispEdges"/>
<text x="575" y="492" fill="#fff" stroke="none">2025.08.01 00:00</text>
</g>
<g font-size="10.67px" text-anchor="middle">
<text x="531.5" y="14" fill="#FF00FF" stroke="#FF00FF" stroke-width="0.25">[+2/8]P</text>
<text x="531.5" y="40" fill="#FFC0CB" stroke="#FFC0CB" stroke-width="0.25">[+1/8]P</text>
<text x="531.5" y="67" fill="#0000FF" stroke="#0000FF" stroke-width="0.25">[8/8]</text>
<text x="531.5" y="93" fill="#FFA500" stroke="#FFA500" stroke-width="0.25">[7/8]</text>
<text x="531.5" y="119" fill="#FF0000" stroke="#FF0000" stroke-width="0.25">[6/8]</text>
<text x="531.5" y="145" fill="#6B8E23" stroke="#6B8E23" stroke-width="0.25">[5/8]</text>
<text x="531.5" y="172" fill="#0000FF" stroke="#0000FF" stroke-width="0.25">[4/8]</text>
<text x="531.5" y="198" fill="#6B8E23" stroke="#6B8E23" stroke-width="0.25">[3/8]</text>
<text x="531.5" y="224" fill="#FF0000" stroke="#FF0000" stroke-width="0.25">[2/8]</text>
<text x="531.5" y="250" fill="#FFA500" stroke="#FFA500" stroke-width="0.25">[1/8]</text>
<text x="531.5" y="277" fill="#0000FF" stroke="#0000FF" stroke-width="0.25">[0/8]</text>
<text x="531.5" y="303" fill="#FFC0CB" stroke="#FFC0CB" stroke-width="0.25">[-1/8]P</text>
<text x="531.5" y="329" fill="#FF00FF" stroke="#FF00FF" stroke-width="0.25">[-2/8]P</text>
</g>
</svg>
</body></html>
